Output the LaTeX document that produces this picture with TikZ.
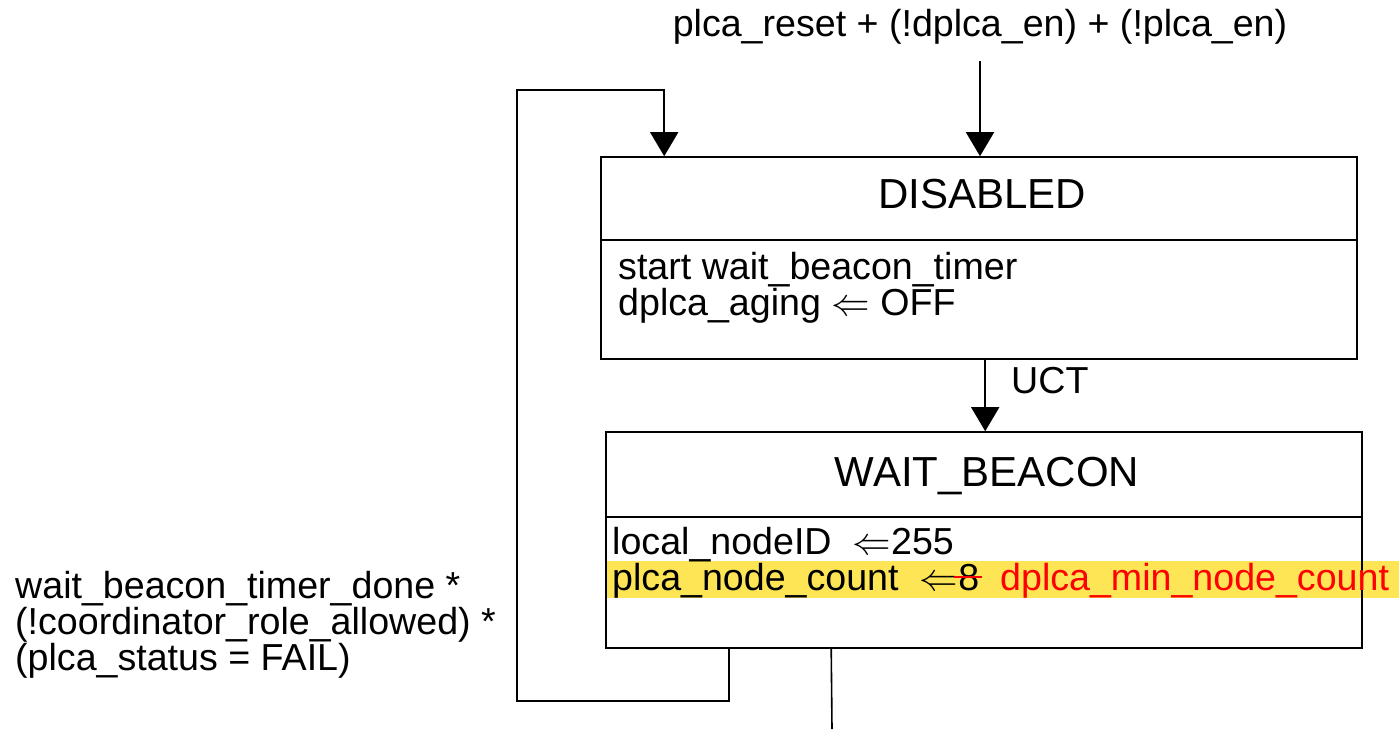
\documentclass[tikz,border=0pt]{standalone}
\usepackage{fontspec}
\usepackage{graphicx}
\setmainfont{Liberation Sans}
\usetikzlibrary{arrows.meta,calc}
\definecolor{hl}{RGB}{253,229,85}
\definecolor{chg}{RGB}{255,0,0}
\newcommand\larw{\scalebox{1.55}{$\Leftarrow$}}
\tikzset{
  statebox/.style={draw,line width=1.6pt,rectangle,inner sep=0,minimum width=756pt},
  txt/.style={inner sep=0,anchor=base west,font=\fontsize{37.6}{44}\selectfont},
  title/.style={inner sep=0,anchor=base,font=\fontsize{42}{48}\selectfont},
  conn/.style={line width=1.6pt},
  arr/.style={conn,-{Triangle[width=28pt,length=24pt]}}
}
\begin{document}
\begin{tikzpicture}[x=1pt,y=-1pt]
\useasboundingbox (0,0) rectangle (1399,729);
% highlight
\fill[hl] (607,561) rectangle (1399,598);
% state boxes
\node[statebox,minimum height=202pt] (disabled) at (979,258) {};
\node[statebox,minimum height=216pt] (waitb) at (984,540) {};
\draw[conn] ($(disabled.north west)+(0,84)$) -- ($(disabled.north east)+(0,84)$);
\draw[conn] ($(waitb.north west)+(0,86)$) -- ($(waitb.north east)+(0,86)$);
% titles
\node[title] (tdis) at (982,208) {DISABLED};
\node[title] (twb) at (987,486) {WAIT\_BEACON};
% actions
\node[txt] (a1) at (618,279) {start wait\_beacon\_timer};
\node[txt] (a2) at (618,315) {dplca\_aging \larw\ OFF};
\node[txt] (b1) at (612,554) {local\_nodeID\ \ \larw255};
\node[txt] (b2) at (612,590) {plca\_node\_count\ \ \larw};
\node[txt,anchor=base west] (eight) at (b2.base east) {8};
\draw[chg,line width=1.6pt] ([xshift=-4pt]eight.west) -- ([xshift=2pt]eight.east);
\node[txt,text=chg] (b3) at (1000,590) {dplca\_min\_node\_count};
% top entry
\node[txt,anchor=base] (cond) at (980,36) {plca\_reset + (!dplca\_en) + (!plca\_en)};
\coordinate (topin) at (980,61);
\draw[arr] (topin) -- (topin |- disabled.north);
% UCT
\coordinate (u1) at ($(disabled.south west)+(385,0)$);
\draw[arr] (u1) -- (u1 |- waitb.north);
\node[txt] (uct) at (1011,393) {UCT};
% loop back
\coordinate (l1) at ($(waitb.south west)+(124,0)$);
\coordinate (l2) at ($(disabled.north west)+(64,0)$);
\draw[arr] (l1) -- ++(0,52) -| (517,90) -| (l2);
\node[txt] (c1) at (15,598) {wait\_beacon\_timer\_done *};
\node[txt] (c2) at (15,634) {(!coordinator\_role\_allowed) *};
\node[txt] (c3) at (15,670) {(plca\_status = FAIL)};
% exit
\coordinate (e1) at ($(waitb.south west)+(226,0)$);
\coordinate (eend) at (832,729);
\draw[conn] (e1) -- (eend);
\end{tikzpicture}
\end{document}
